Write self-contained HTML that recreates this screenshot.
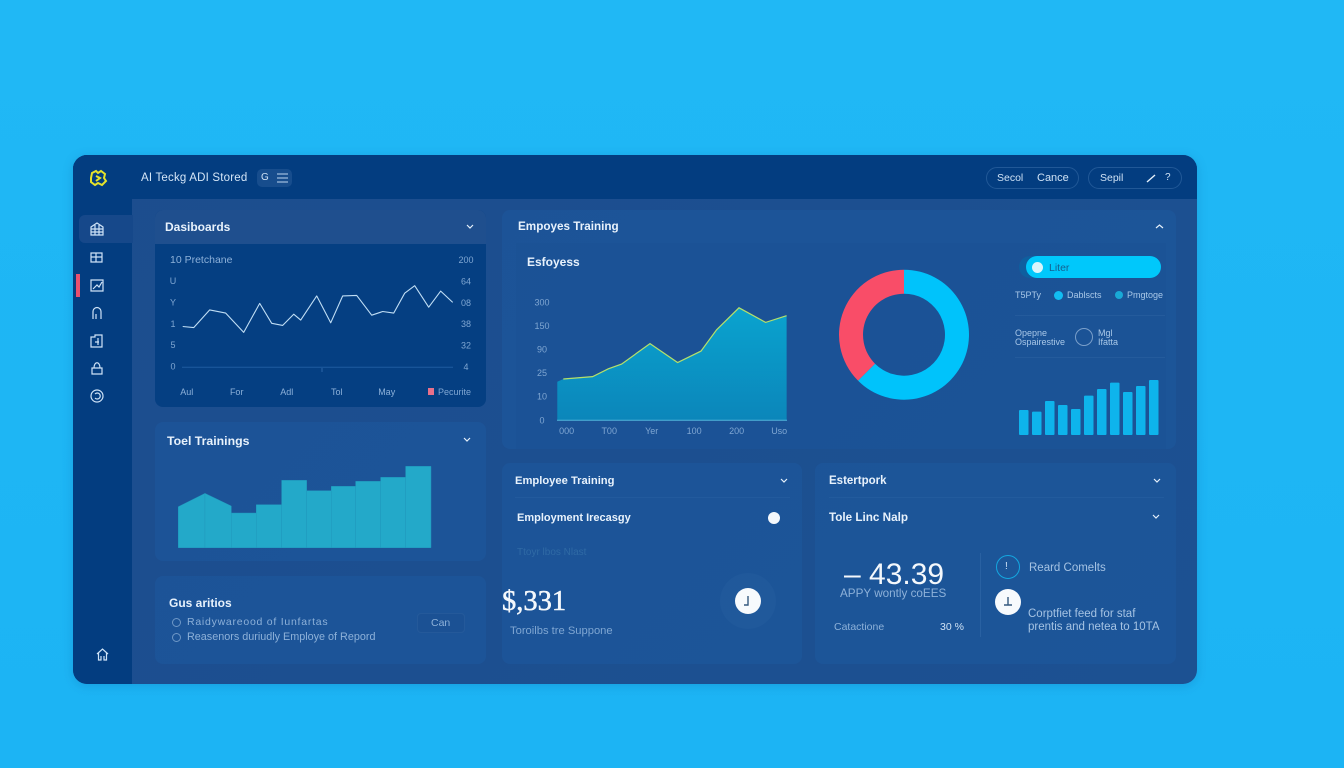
<!DOCTYPE html>
<html lang="en">
<head>
<meta charset="utf-8">
<title>Employee Training Dashboard</title>
<style>
html,body{margin:0;padding:0;width:1344px;height:768px;overflow:hidden;background:#1eb6f5;font-family:"Liberation Sans",sans-serif;}
#page{position:absolute;left:0;top:0;width:1344px;height:768px;background:linear-gradient(180deg,#20b8f5 0%,#1cb4f4 100%);overflow:hidden;}
.box{position:absolute;box-sizing:border-box;}
.t{position:absolute;line-height:16px;height:16px;white-space:nowrap;color:#cfe2f5;font-size:10.5px;}
.h{font-weight:bold;font-size:12px;color:#e8f2fc;}
.m{color:#8db1d9;font-size:10.5px;}
.s{font-size:9px;color:#a9c8e8;}
.panel{background:rgba(30,95,165,.36);border-radius:8px;}
.dot{position:absolute;border-radius:50%;box-sizing:border-box;}
svg{position:absolute;overflow:visible;}
.ic{fill:none;stroke:#cfe3f7;stroke-width:1.2;}
.chev{fill:none;stroke:#e6f1fb;stroke-width:1.2;}
</style>
</head>
<body>
<div id="page">
  <div class="box" style="left:73px;top:155px;width:1124px;height:529px;border-radius:14px;background:linear-gradient(135deg,#1c4d8e 0%,#1c5192 100%);overflow:hidden;box-shadow:0 2px 10px rgba(10,90,160,.25);">
    <div class="box" style="left:0;top:0;width:1124px;height:44px;background:#033d80;"></div>
    <div class="box" style="left:0;top:0;width:59px;height:529px;background:#033d80;"></div>
    <div class="box" style="left:6px;top:60px;width:54px;height:28px;border-radius:6px 0 0 6px;background:#16488a;"></div>
  </div>

  <div class="box" style="left:76px;top:274px;width:4px;height:23px;background:#e8506e;"></div>

  <svg style="left:88px;top:168px" width="20" height="20" viewBox="0 0 20 20"><path d="M4 5 L8 3 L10 5 L13 3 L17 6 L16 10 L18 13 L14 17 L10 15 L7 17 L3 14 L3 10 Z M8 8 L12 10 L8 13" fill="none" stroke="#e6e32a" stroke-width="2"/></svg>
  <div class="t" style="left:141px;top:170px;font-size:11.5px;letter-spacing:.2px;color:#d5e6f7;">AI Teckg ADI Stored</div>
  <div class="box" style="left:257px;top:169px;width:35px;height:18px;border-radius:5px;background:#174d8d;"></div>
  <div class="t" style="left:261px;top:170px;font-size:10px;">G</div>
  <svg style="left:277px;top:173px" width="11" height="10"><path d="M0 1H11M0 5H11M0 9H11" stroke="#bcd5ee" stroke-width="1"/></svg>

  <div class="box" style="left:986px;top:167px;width:93px;height:22px;border-radius:11px;border:1px solid rgba(140,185,230,.22);"></div>
  <div class="t" style="left:997px;top:170px;">Secol</div>
  <div class="t" style="left:1037px;top:170px;font-size:11px;">Cance</div>
  <div class="box" style="left:1088px;top:167px;width:94px;height:22px;border-radius:11px;border:1px solid rgba(140,185,230,.22);"></div>
  <div class="t" style="left:1100px;top:170px;">Sepil</div>
  <svg style="left:1147px;top:174px" width="9" height="9"><path d="M0 8L8 1" stroke="#e6f1fb" stroke-width="1.4"/></svg>
  <div class="t" style="left:1165px;top:170px;font-size:10px;">?</div>

  <svg class="ic" style="left:90px;top:222px" width="14" height="14"><path d="M1 13V5L7 1L13 5V13ZM1 7H13M1 10H13M5 3V13M9 3V13"/></svg>
  <svg class="ic" style="left:90px;top:252px" width="14" height="12"><path d="M1 1H12V10H1ZM6 1V10M1 5H12"/></svg>
  <svg class="ic" style="left:90px;top:279px" width="14" height="13"><path d="M1 1H13V12H1ZM3 10L7 6L9 8L12 3"/></svg>
  <svg class="ic" style="left:91px;top:306px" width="12" height="14"><path d="M2 13V6C2 0 10 0 10 6V13M5 13V8"/></svg>
  <svg class="ic" style="left:90px;top:334px" width="13" height="14"><path d="M1 3H5V1H12V13H1ZM5 8H9M8 4V11"/></svg>
  <svg class="ic" style="left:91px;top:361px" width="12" height="14"><path d="M1 13V7H11V13ZM3 7C3 0 9 0 9 7"/></svg>
  <svg class="ic" style="left:90px;top:389px" width="14" height="14"><circle cx="7" cy="7" r="6"/><path d="M5 9A3 3 0 1 0 5 5"/></svg>
  <svg class="ic" style="left:96px;top:648px" width="13" height="13"><path d="M1 6L6.500 1L12 6M2.500 5V12H5V8M10.500 5V12H8V8"/></svg>

  <div class="box panel" style="left:155px;top:210px;width:331px;height:197px;background:#053f82;"></div>
  <div class="box" style="left:155px;top:210px;width:331px;height:34px;border-radius:8px 8px 0 0;background:#1f4f8e;"></div>
  <div class="t h" style="left:165px;top:219px;">Dasiboards</div>
  <svg class="chev" style="left:466px;top:224px" width="8" height="6"><path d="M1 1L4 4L7 1"/></svg>
  <div class="t s" style="left:170px;top:252px;font-size:10.5px;color:#8db1d9;">10 Pretchane</div>

  <div class="box panel" style="left:502px;top:210px;width:674px;height:239px;"></div>
  <div class="box" style="left:516px;top:243px;width:650px;height:206px;background:rgba(30,80,145,.18);"></div>
  <div class="t h" style="left:518px;top:219px;font-size:11.7px;">Empoyes Training</div>
  <svg class="chev" style="left:1155px;top:224px" width="9" height="6"><path d="M1 4L4.500 1L8 4"/></svg>
  <div class="t h" style="left:527px;top:254px;">Esfoyess</div>

  <div class="box" style="left:1019px;top:256px;width:60px;height:22px;border-radius:11px;background:#0f5f9f;"></div>
  <div class="box" style="left:1026px;top:256px;width:135px;height:22px;border-radius:11px;background:#00c8fb;"></div>
  <div class="dot" style="left:1032px;top:262px;width:11px;height:11px;background:#d9f5fb;"></div>
  <div class="t" style="left:1049px;top:260px;color:#15608f;font-size:10.5px;">Liter</div>
  <div class="t s" style="left:1015px;top:287px;">T5PTy</div>
  <div class="dot" style="left:1054px;top:291px;width:9px;height:9px;background:#12bdf2;"></div>
  <div class="t s" style="left:1067px;top:287px;">Dablscts</div>
  <div class="dot" style="left:1115px;top:291px;width:8px;height:8px;background:#19a9d6;"></div>
  <div class="t s" style="left:1127px;top:287px;">Pmgtoge</div>
  <div class="box" style="left:1015px;top:315px;width:150px;height:1px;background:rgba(120,170,220,.1);"></div>
  <div class="t s" style="left:1015px;top:325px;">Opepne</div>
  <div class="t s" style="left:1015px;top:334px;">Ospairestive</div>
  <div class="dot" style="left:1075px;top:328px;width:18px;height:18px;border:1px solid #7a9fca;"></div>
  <div class="t s" style="left:1098px;top:325px;">Mgl</div>
  <div class="t s" style="left:1098px;top:334px;">Ifatta</div>
  <div class="box" style="left:1015px;top:357px;width:150px;height:1px;background:rgba(120,170,220,.1);"></div>

  <div class="box panel" style="left:155px;top:422px;width:331px;height:139px;"></div>
  <div class="t h" style="left:167px;top:433px;font-size:12.3px;">Toel Trainings</div>
  <svg class="chev" style="left:463px;top:437px" width="8" height="6"><path d="M1 1L4 4L7 1"/></svg>

  <div class="box panel" style="left:155px;top:576px;width:331px;height:88px;"></div>
  <div class="t h" style="left:169px;top:595px;">Gus aritios</div>
  <div class="dot" style="left:172px;top:618px;width:9px;height:9px;border:1px solid #6f98c7;"></div>
  <div class="t m" style="left:187px;top:614px;letter-spacing:.75px;">Raidywareood of Iunfartas</div>
  <div class="dot" style="left:172px;top:633px;width:9px;height:9px;border:1px solid #6f98c7;"></div>
  <div class="t m" style="left:187px;top:629px;font-size:10.8px;">Reasenors duriudly Employe of Repord</div>
  <div class="box" style="left:417px;top:613px;width:48px;height:20px;border-radius:4px;border:1px solid rgba(120,170,220,.1);background:rgba(25,75,140,.3);"></div>
  <div class="t m" style="left:431px;top:615px;">Can</div>

  <div class="box panel" style="left:502px;top:463px;width:300px;height:201px;"></div>
  <div class="t h" style="left:515px;top:473px;font-size:11.2px;">Employee Training</div>
  <svg class="chev" style="left:780px;top:478px" width="8" height="6"><path d="M1 1L4 4L7 1"/></svg>
  <div class="box" style="left:515px;top:497px;width:275px;height:1px;background:rgba(120,170,220,.08);"></div>
  <div class="t h" style="left:517px;top:510px;font-size:11px;">Employment Irecasgy</div>
  <div class="dot" style="left:768px;top:512px;width:12px;height:12px;background:#f4f8fc;"></div>
  <div class="t" style="left:517px;top:545px;color:#2f6aa5;font-size:10px;">Ttoyr lbos Nlast</div>
  <div class="t" style="left:502px;top:586px;height:32px;line-height:32px;font-family:'Liberation Serif',serif;font-size:28.5px;color:#f4f8fc;-webkit-text-stroke:.5px #f4f8fc;">$,331</div>
  <div class="t m" style="left:510px;top:623px;font-size:11.2px;color:#7fa6d2;">Toroilbs tre Suppone</div>
  <div class="dot" style="left:720px;top:573px;width:56px;height:56px;background:rgba(60,115,175,.14);"></div>
  <div class="dot" style="left:735px;top:588px;width:26px;height:26px;background:#f7fafd;"></div>
  <svg style="left:735px;top:588px" width="26" height="26"><path d="M13 8V17H9" fill="none" stroke="#35597f" stroke-width="1.400"/></svg>

  <div class="box panel" style="left:815px;top:463px;width:361px;height:201px;"></div>
  <div class="t h" style="left:829px;top:473px;font-size:11.5px;">Estertpork</div>
  <svg class="chev" style="left:1153px;top:478px" width="8" height="6"><path d="M1 1L4 4L7 1"/></svg>
  <div class="box" style="left:829px;top:497px;width:335px;height:1px;background:rgba(120,170,220,.08);"></div>
  <div class="t h" style="left:829px;top:510px;font-size:11.7px;">Tole Linc Nalp</div>
  <svg class="chev" style="left:1152px;top:514px" width="8" height="6"><path d="M1 1L4 4L7 1"/></svg>
  <div class="t" style="left:844px;top:558px;height:34px;line-height:34px;font-size:30px;color:#f4f8fc;">– 43.39</div>
  <div class="t m" style="left:840px;top:586px;font-size:11.7px;">APPY wontly coEES</div>
  <div class="t m" style="left:834px;top:619px;">Catactione</div>
  <div class="t" style="left:940px;top:619px;">30 %</div>
  <div class="box" style="left:980px;top:553px;width:1px;height:84px;background:rgba(120,170,220,.15);"></div>
  <div class="dot" style="left:996px;top:555px;width:24px;height:24px;border:1.500px solid #14a7e0;"></div>
  <div class="t" style="left:1005px;top:559px;font-size:10px;">!</div>
  <div class="t m" style="left:1029px;top:560px;color:#a5c3e3;font-size:11.5px;">Reard Comelts</div>
  <div class="dot" style="left:995px;top:589px;width:26px;height:26px;background:#f7fafd;"></div>
  <svg style="left:995px;top:589px" width="26" height="26"><path d="M13 8V16M9 16H17" fill="none" stroke="#35597f" stroke-width="1.400"/></svg>
  <div class="t m" style="left:1028px;top:606px;color:#a5c3e3;font-size:11.5px;">Corptfiet feed for staf</div>
  <div class="t m" style="left:1028px;top:619px;color:#a5c3e3;font-size:11.5px;">prentis and netea to 10TA</div>

  <svg id="charts" style="left:0;top:0" width="1344" height="768"></svg>
</div>

<script>
var lineDays = [0, 11, 27, 43, 61, 77, 89, 100, 111, 118, 134, 148, 160, 174, 189, 200, 211, 222, 232, 246, 258, 270];
var lineValues = [76, 74, 107, 101, 65, 119, 82, 78, 99, 88, 133, 83, 133, 134, 97, 104, 101, 138, 152, 112, 142, 121];
var lineLeftTicks = ["U", "Y", "1", "5", "0"];
var lineRightTicks = ["200", "64", "08", "38", "32", "4"];
var lineMonths = ["Aul", "For", "Adl", "Tol", "May"];
var lineLegend = "Pecurite";

var areaWeeks = [0, 9, 53, 76.5, 96.5, 139, 180.5, 215.5, 239, 272.5, 312.5, 344];
var areaValues = [98, 105, 111, 131, 143, 195, 147, 176, 230, 286, 249, 266];
var areaYTicks = ["300", "150", "90", "25", "10", "0"];
var areaXTicks = ["000", "T00", "Yer", "100", "200", "Uso"];

var donutLabels = ["Completed", "Pending"];
var donutValues = [62.5, 37.5];

var miniBarValues = [75, 70, 102, 90, 78, 118, 138, 157, 129, 147, 165];

var stepStart = [123, 163, 104, 129, 202, 171, 184, 199, 211, 244];
var stepEnd = [163, 125, 104, 129, 202, 171, 184, 199, 211, 244];
var stepWidths = [80, 79, 75, 76, 75, 74, 73, 75, 75, 76];

var NS = "http://www.w3.org/2000/svg";
var root = document.getElementById("charts");
function mk(tag, attrs) {
  var el = document.createElementNS(NS, tag);
  for (var k in attrs) { el.setAttribute(k, attrs[k]); }
  root.appendChild(el);
  return el;
}
function label(x, y, str, anchor, fill, size) {
  var el = mk("text", { x: x, y: y + 3, "text-anchor": anchor, fill: fill, "font-size": size, "font-family": "Liberation Sans, sans-serif" });
  el.textContent = str;
  return el;
}

/* line chart */
function lineX(d) { return 182.7 + d * 1.0; }
function lineY(v) { return 367.3 - v * 0.5367; }
var i, el;
var baseLine = mk("line", { x1: 182, x2: 453, y1: 367.3, y2: 367.3, stroke: "#1f5c9f", "stroke-width": 1 });


var baseTick = mk("line", { x1: 322, x2: 322, y1: 368, y2: 372, stroke: "#2a66a8", "stroke-width": 1 });


var linePts = lineDays.map(function (d, n) { return lineX(d).toFixed(1) + "," + lineY(lineValues[n]).toFixed(1); }).join(" ");
var linePath = mk("polyline", { points: linePts, fill: "none", stroke: "#c0def5", "stroke-width": 1.1, "stroke-linejoin": "round" });


for (i = 0; i < lineLeftTicks.length; i++) {
  el = label(173, 281 + i * 21.4, lineLeftTicks[i], "middle", "#7fa6d2", 9);
  
  
}
for (i = 0; i < lineRightTicks.length; i++) {
  el = label(466, 260 + i * 21.4, lineRightTicks[i], "middle", "#7fa6d2", 9);
  
  
}
for (i = 0; i < lineMonths.length; i++) {
  el = label(186.7 + i * 50, 392, lineMonths[i], "middle", "#8db1d9", 9);
  
  
}
var legendSwatch = mk("rect", { x: 428, y: 388, width: 6, height: 7, fill: "#e8708a" });


var legendText = label(438, 392, lineLegend, "start", "#7fa6d2", 9);



/* area chart */
function areaX(w) { return 557.3 + w * 0.6667; }
function areaY(v) { return 420.3 - v * 0.3933; }
var defs = mk("defs", {});
var grad = document.createElementNS(NS, "linearGradient");
grad.setAttribute("id", "areaFill");
grad.setAttribute("x1", "0"); grad.setAttribute("x2", "0"); grad.setAttribute("y1", "0"); grad.setAttribute("y2", "1");
var stopA = document.createElementNS(NS, "stop");
stopA.setAttribute("offset", "0"); stopA.setAttribute("stop-color", "#0aa3cf");
var stopB = document.createElementNS(NS, "stop");
stopB.setAttribute("offset", "1"); stopB.setAttribute("stop-color", "#0b86ba");
grad.appendChild(stopA); grad.appendChild(stopB); defs.appendChild(grad);

var areaPts = areaWeeks.map(function (w, n) { return areaX(w).toFixed(1) + "," + areaY(areaValues[n]).toFixed(1); });
var areaShape = mk("polygon", { points: areaX(areaWeeks[0]) + "," + areaY(0) + " " + areaPts.join(" ") + " " + areaX(areaWeeks[areaWeeks.length - 1]) + "," + areaY(0), fill: "url(#areaFill)" });


var areaLine = mk("polyline", { points: areaPts.slice(1).join(" "), fill: "none", stroke: "#b5e06a", "stroke-width": 1.2 });


var areaBase = mk("line", { x1: 557, x2: 787, y1: 420.3, y2: 420.3, stroke: "#4fb6dc", "stroke-width": 1 });


for (i = 0; i < areaYTicks.length; i++) {
  el = label(542, 302.3 + i * 23.6, areaYTicks[i], "middle", "#7fa6d2", 9);
  
  
}
for (i = 0; i < areaXTicks.length; i++) {
  el = label(566.7 + i * 42.5, 431, areaXTicks[i], "middle", "#7fa6d2", 9);
  
  
}

/* donut */
var donutColors = ["#00c3fb", "#f94d68"];
var donutTotal = donutValues.reduce(function (a, b) { return a + b; }, 0);
var donutStart = 0;
function polar(r, frac) {
  var a = frac * 2 * Math.PI - Math.PI / 2;
  return (904 + r * Math.cos(a)).toFixed(2) + " " + (334.7 + r * Math.sin(a)).toFixed(2);
}
for (i = 0; i < donutValues.length; i++) {
  var f0 = donutStart / donutTotal;
  var f1 = (donutStart + donutValues[i]) / donutTotal;
  var large = f1 - f0 > 0.5 ? 1 : 0;
  var d = "M" + polar(65, f0) + " A65 65 0 " + large + " 1 " + polar(65, f1) + " L" + polar(41, f1) + " A41 41 0 " + large + " 0 " + polar(41, f0) + " Z";
  el = mk("path", { d: d, fill: donutColors[i] });
  
  
  donutStart += donutValues[i];
}

/* mini bars */
function miniX(n) { return 1019 + n * 13; }
function miniH(v) { return v / 3; }
for (i = 0; i < miniBarValues.length; i++) {
  el = mk("rect", { x: miniX(i), y: 435 - miniH(miniBarValues[i]), width: 9.5, height: miniH(miniBarValues[i]), rx: 1, fill: "#0eb4ec" });
  
  
}

/* step bars */
function stepY(v) { return 547.7 - v / 3; }
var stepLeft = 178.3;
for (i = 0; i < stepStart.length; i++) {
  var w = stepWidths[i] / 3;
  el = mk("polygon", {
    points: stepLeft + "," + stepY(0) + " " + stepLeft + "," + stepY(stepStart[i]) + " " + (stepLeft + w) + "," + stepY(stepEnd[i]) + " " + (stepLeft + w) + "," + stepY(0),
    fill: "#23a9c9", stroke: "#2199bd", "stroke-width": 0.5
  });
  
  
  stepLeft += w;
}
</script>
</body>
</html>
